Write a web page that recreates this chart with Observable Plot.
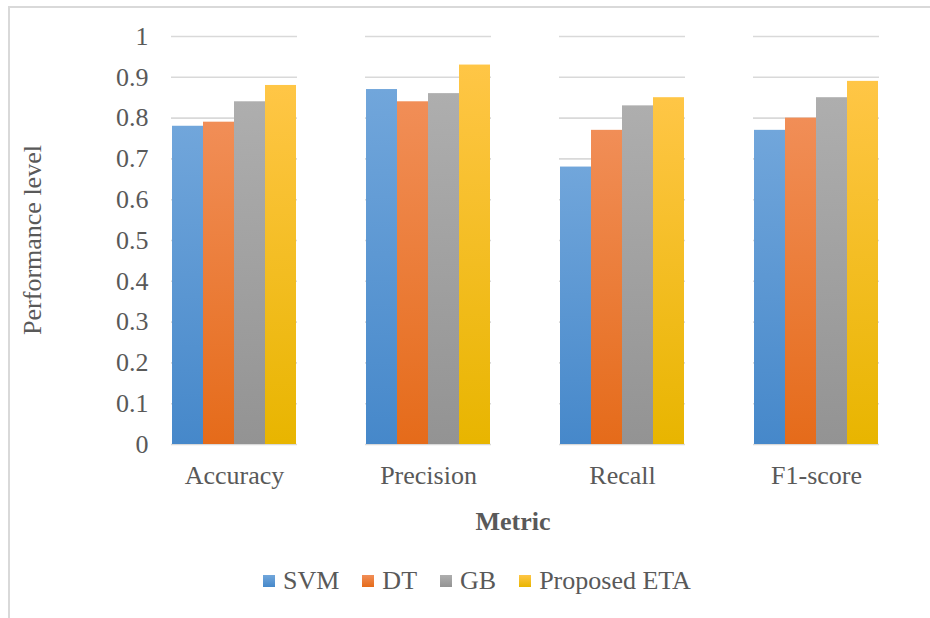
<!DOCTYPE html>
<html>
<head>
<meta charset="utf-8">
<script src="https://cdn.jsdelivr.net/npm/d3@7"></script>
<script src="https://cdn.jsdelivr.net/npm/@observablehq/plot@0.6"></script>
<style>
  html, body { margin: 0; padding: 0; background: #fff; }
  #chart { position: relative; width: 930px; height: 618px; overflow: hidden; font-family: "Times New Roman", "Liberation Serif", "DejaVu Serif", serif; color: #595959; }
  #frame { position: absolute; left: 8px; top: 6px; width: 940px; height: 640px; border-left: 2px solid #d9d9d9; border-top: 2px solid #d9d9d9; box-sizing: border-box; }
  #legend { position: absolute; left: 263px; top: 566px; display: flex; align-items: center; font-size: 26px; white-space: nowrap; }
  .item { display: flex; align-items: center; margin-right: 23px; }
  .sw { width: 12px; height: 12px; margin-right: 8px; }
  #xtitle { position: absolute; left: 513px; top: 522px; transform: translate(-50%, -50%); font-size: 26px; font-weight: bold; white-space: nowrap; }
  #ytitle { position: absolute; left: 33px; top: 240px; transform: translate(-50%, -50%) rotate(-90deg); font-size: 26px; white-space: nowrap; }
  svg { position: absolute; left: 0; top: 0; }
</style>
</head>
<body>
<div id="chart"><div id="frame"></div></div>
<script>
// Metrics on the x axis and the four compared models
const metrics = ["Accuracy", "Precision", "Recall", "F1-score"];
const models = ["SVM", "DT", "GB", "Proposed ETA"];

// Scores per model, in the order of `metrics`
const svm = [0.78, 0.87, 0.68, 0.77];
const dt  = [0.79, 0.84, 0.77, 0.80];
const gb  = [0.84, 0.86, 0.83, 0.85];
const eta = [0.88, 0.93, 0.85, 0.89];

const yTicks = [0, 0.1, 0.2, 0.3, 0.4, 0.5, 0.6, 0.7, 0.8, 0.9, 1];

// Gradient stops (top, bottom) for each model's bars
const gradients = [
  ["#71a6db", "#4688ca"],
  ["#f18e57", "#e56b1a"],
  ["#aeaeae", "#939393"],
  ["#ffc646", "#e8b500"]
];

const series = [svm, dt, gb, eta];
const rows = [];
metrics.forEach((m, i) => {
  models.forEach((model, j) => rows.push({metric: m, model, value: series[j][i]}));
});

const textColor = "#595959";
const serif = "'Times New Roman', 'Liberation Serif', 'DejaVu Serif', serif";

const plot = Plot.plot({
  width: 930,
  height: 560,
  marginLeft: 137,
  marginRight: 17,
  marginTop: 36,
  marginBottom: 116,
  style: {fontFamily: serif, fontSize: "26px", color: textColor, background: "transparent"},
  fx: {domain: metrics, paddingInner: 0.35, paddingOuter: 0.175, label: null, axis: null},
  x: {domain: models, padding: 0, axis: null},
  y: {domain: [0, 1], label: null, axis: null},
  color: {domain: models, range: models.map((m, i) => `url(#bar-grad-${i})`)},
  marks: [
    Plot.gridY(yTicks, {stroke: "#d9d9d9", strokeOpacity: 1, strokeWidth: 1.6}),
    Plot.axisY(yTicks, {tickSize: 0, tickPadding: 23, tickFormat: d => String(+d.toFixed(1)), fill: textColor, fontSize: 26, fontFamily: serif, fontVariant: "normal", label: null}),
    Plot.axisFx({anchor: "bottom", tickSize: 0, tickPadding: 21, fill: textColor, fontSize: 26, fontFamily: serif, label: null}),
    Plot.barY(rows, {fx: "metric", x: "model", y: "value", fill: "model", ariaLabel: "bars"})
  ]
});

// gradient and shadow definitions used by the bars
const svg = d3.select(plot);
const defs = svg.insert("defs", ":first-child");
gradients.forEach(([top, bottom], i) => {
  const g = defs.append("linearGradient").attr("id", `bar-grad-${i}`)
    .attr("x1", 0).attr("y1", 0).attr("x2", 0).attr("y2", 1);
  g.append("stop").attr("offset", "0%").attr("stop-color", top);
  g.append("stop").attr("offset", "100%").attr("stop-color", bottom);
});
const f = defs.append("filter").attr("id", "bar-shadow")
  .attr("x", "-20%").attr("y", "-20%").attr("width", "140%").attr("height", "140%");
f.append("feDropShadow").attr("dx", 1).attr("dy", 1).attr("stdDeviation", 2.5)
  .attr("flood-color", "#000").attr("flood-opacity", 0.35);
svg.selectAll('g[aria-label="bars"]').attr("filter", "url(#bar-shadow)");

const chart = d3.select("#chart");
chart.node().appendChild(plot);

// axis titles
chart.append("div").attr("id", "xtitle").text("Metric");
chart.append("div").attr("id", "ytitle").text("Performance level");

// legend below the plot
const legend = chart.append("div").attr("id", "legend");
models.forEach((m, i) => {
  const item = legend.append("div").attr("class", "item");
  item.append("div").attr("class", "sw")
    .style("background", `linear-gradient(${gradients[i][0]}, ${gradients[i][1]})`);
  item.append("span").text(m);
});
</script>
</body>
</html>
